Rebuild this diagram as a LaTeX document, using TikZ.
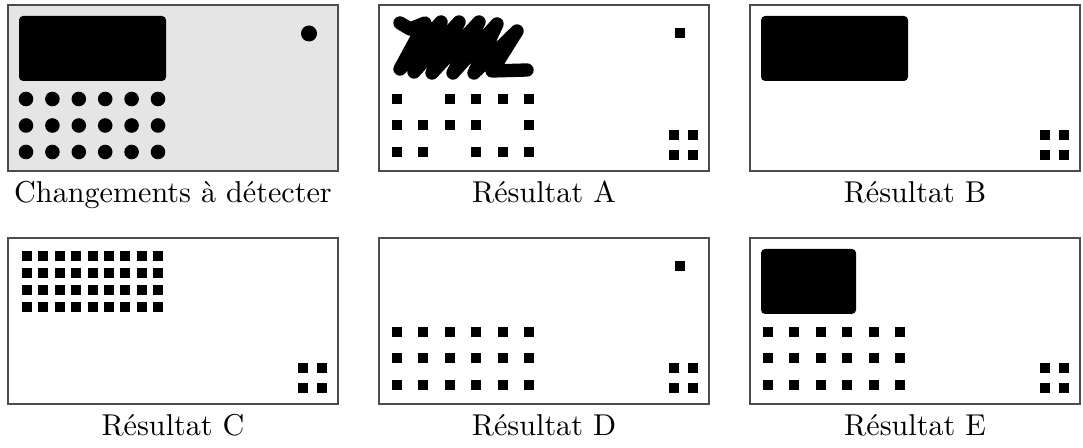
\documentclass[tikz,border=0pt]{standalone}
\usepackage{tikz}
\usetikzlibrary{positioning, calc}
\tikzset{
  panelbox/.style={rectangle, draw=black!70, line width=0.4pt, fill=white, minimum width=113.85pt, minimum height=57.27pt, inner sep=0pt, outer sep=0pt},
  refbox/.style={panelbox, fill=black!10},
  captxt/.style={anchor=base, inner sep=0pt, font=\fontsize{10.4}{12.5}\selectfont},
  blob/.style={fill=black, rounded corners=1.4pt},
  scribble/.style={draw=black, line width=4.6pt, line join=round, line cap=round}
}
\newcommand{\sqmark}[2]{\fill (#1-5,#2-5) rectangle ++(10,10);}
\newcommand{\falsepos}{\foreach \fx in {295,314} \foreach \fy in {130.5,150} {\sqmark{\fx}{\fy}}}

\begin{document}
\begin{tikzpicture}[x=0.345pt, y=-0.345pt, node distance=23.1pt and 14.15pt]
  \useasboundingbox (0,0) rectangle (1083,448);

  % panels
  \node[refbox] (ref) at (173,88) {};
  \node[panelbox, right=of ref] (resA) {};
  \node[panelbox, right=of resA] (resB) {};
  \node[panelbox, below=of ref] (resC) {};
  \node[panelbox, right=of resC] (resD) {};
  \node[panelbox, right=of resD] (resE) {};

  % captions
  \node[captxt] (capref) at ($(ref.south)+(0,32)$) {Changements à détecter};
  \node[captxt] (capA) at ($(resA.south)+(0,32)$) {Résultat A};
  \node[captxt] (capB) at ($(resB.south)+(0,32)$) {Résultat B};
  \node[captxt] (capC) at ($(resC.south)+(0,32)$) {Résultat C};
  \node[captxt] (capD) at ($(resD.south)+(0,32)$) {Résultat D};
  \node[captxt] (capE) at ($(resE.south)+(0,32)$) {Résultat E};

  % changes to detect
  \begin{scope}[shift={(ref.north west)}]
    \fill[blob] (11,11) rectangle (158,76);
    \fill (301,28.5) circle (8);
    \foreach \i in {0,...,5} \foreach \j in {0,1,2}
      \fill ({18+26.4*\i},{94+26.5*\j}) circle (7.3);
  \end{scope}

  % result A
  \begin{scope}[shift={(resA.north west)}]
    \draw[scribble] (21,18) -- (31,24) -- (46,18) -- (21,64) -- (62,17) -- (35,67) -- (80,17) -- (53,68)
      -- (100,17) -- (74,68) -- (118,19) -- (95,68) -- (138,26) -- (113,66) -- (148,65);
    \sqmark{301}{28.5}
    \foreach \j/\cols in {0/{0,2,3,4,5}, 1/{0,1,2,3,5}, 2/{0,1,3,4,5}}
      \foreach \i in \cols {\sqmark{18+26.4*\i}{94+26.5*\j}}
    \falsepos
  \end{scope}

  % result B
  \begin{scope}[shift={(resB.north west)}]
    \fill[blob] (11,11) rectangle (158,76);
    \falsepos
  \end{scope}

  % result C
  \begin{scope}[shift={(resC.north west)}]
    \foreach \i in {0,...,8} \foreach \j in {0,...,3}
      {\sqmark{18.7+16.45*\i}{17.7+17*\j}}
    \falsepos
  \end{scope}

  % result D
  \begin{scope}[shift={(resD.north west)}]
    \sqmark{301}{28.5}
    \foreach \i in {0,...,5} \foreach \j in {0,1,2}
      {\sqmark{18+26.4*\i}{94+26.5*\j}}
    \falsepos
  \end{scope}

  % result E
  \begin{scope}[shift={(resE.north west)}]
    \fill[blob] (11,11) rectangle (106,76);
    \foreach \i in {0,...,5} \foreach \j in {0,1,2}
      {\sqmark{18+26.4*\i}{94+26.5*\j}}
    \falsepos
  \end{scope}
\end{tikzpicture}
\end{document}
